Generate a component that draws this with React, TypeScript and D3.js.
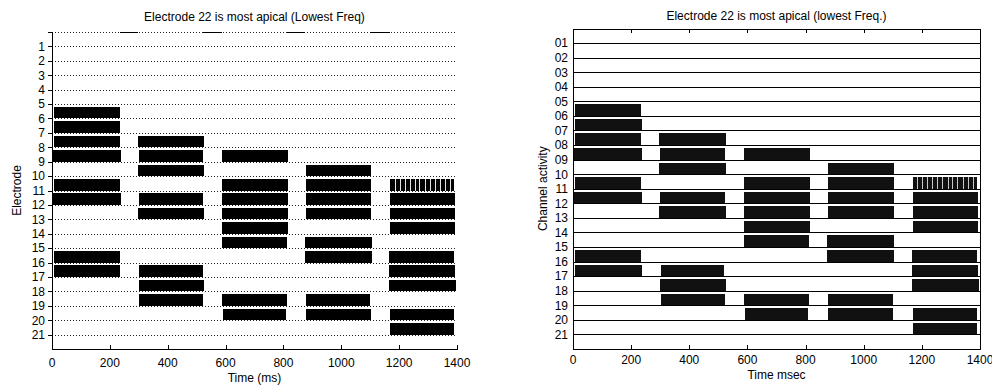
import React from 'react';
import * as d3 from 'd3';

// ---- data ----
const electrodeLabels = ['1','2','3','4','5','6','7','8','9','10','11','12','13','14','15','16','17','18','19','20','21'];
const channelLabels = ['01','02','03','04','05','06','07','08','09','10','11','12','13','14','15','16','17','18','19','20','21'];
const timeTicks = [0, 200, 400, 600, 800, 1000, 1200, 1400];

// [electrode, start ms, end ms]
const bars: [number, number, number][] = [
  [6, 8, 235],
  [7, 8, 236],
  [8, 8, 235], [8, 297, 527],
  [9, 3, 238], [9, 300, 523], [9, 587, 815],
  [10, 297, 527], [10, 878, 1104],
  [11, 8, 235], [11, 587, 815], [11, 878, 1104],
  [12, 3, 238], [12, 300, 523], [12, 587, 815], [12, 878, 1104], [12, 1168, 1392],
  [13, 297, 527], [13, 587, 815], [13, 878, 1104], [13, 1168, 1392],
  [14, 587, 816], [14, 1168, 1392],
  [15, 587, 811], [15, 875, 1105],
  [16, 8, 234], [16, 875, 1105], [16, 1166, 1390],
  [17, 8, 236], [17, 302, 521], [17, 1166, 1392],
  [18, 300, 527], [18, 1166, 1398],
  [19, 302, 523], [19, 587, 811], [19, 878, 1100],
  [20, 592, 810], [20, 878, 1102], [20, 1170, 1390],
  [21, 1170, 1390],
];
// pulsed burst on electrode 11
const pulsedBar: [number, number, number] = [11, 1168, 1390];
const pulseGaps = [1186, 1203, 1221, 1238, 1255, 1272, 1290, 1307, 1324, 1342, 1359, 1376];
// rest intervals marked on top line (left panel)
const restSegments: [number, number][] = [[235, 297], [522, 588], [812, 875], [1099, 1168]];

const FONT = 'Liberation Sans, Arial, Helvetica, sans-serif';

function LeftPanel() {
  const x = d3.scaleLinear().domain([0, 1400]).range([52, 457]);
  const y = d3.scaleLinear().domain([0, 22]).range([32, 349]);
  const rows = d3.range(0, 22);
  return (
    <g fontFamily={FONT}>
      <text x={254.5} y={21} textAnchor="middle" fontSize={12}>Electrode 22 is most apical (Lowest Freq)</text>
      {rows.map(r => (
        <line key={'g' + r} x1={x(0)} x2={x(1400)} y1={Math.round(y(r)) + 0.5} y2={Math.round(y(r)) + 0.5}
          stroke="#222" strokeWidth={1} strokeDasharray="1,2" />
      ))}
      {restSegments.map((s, i) => (
        <line key={'r' + i} x1={x(s[0])} x2={x(s[1])} y1={Math.round(y(0)) + 0.5} y2={Math.round(y(0)) + 0.5}
          stroke="#000" strokeWidth={1} />
      ))}
      {bars.map((b, i) => (
        <rect key={'b' + i} x={x(b[1])} width={x(b[2]) - x(b[1])} y={y(b[0] - 0.8)} height={y(b[0]) - y(b[0] - 0.8)} fill="#000" />
      ))}
      <rect x={x(pulsedBar[1])} width={x(pulsedBar[2]) - x(pulsedBar[1])} y={y(pulsedBar[0] - 0.8)}
        height={y(pulsedBar[0]) - y(pulsedBar[0] - 0.8)} fill="#000" />
      {pulseGaps.map((t, i) => (
        <line key={'p' + i} x1={x(t)} x2={x(t)} y1={y(pulsedBar[0] - 0.8)} y2={y(pulsedBar[0])} stroke="#fff" strokeWidth={0.9} />
      ))}
      {/* axes */}
      <line x1={x(0) + 0.5} x2={x(0) + 0.5} y1={y(0)} y2={y(22)} stroke="#000" />
      <line x1={x(0)} x2={x(1400) + 1} y1={y(22) + 0.5} y2={y(22) + 0.5} stroke="#000" />
      {rows.map(r => (
        <line key={'yt' + r} x1={x(0) - 4} x2={x(0)} y1={Math.round(y(r)) + 0.5} y2={Math.round(y(r)) + 0.5} stroke="#000" />
      ))}
      {electrodeLabels.map((l, i) => (
        <text key={'yl' + i} x={45} y={y(i + 1)} dy="0.36em" textAnchor="end" fontSize={12}>{l}</text>
      ))}
      {timeTicks.map(t => (
        <g key={'xt' + t}>
          <line x1={Math.round(x(t)) + 0.5} x2={Math.round(x(t)) + 0.5} y1={y(22)} y2={y(22) - 4} stroke="#000" />
          <text x={x(t)} y={367} textAnchor="middle" fontSize={12}>{t}</text>
        </g>
      ))}
      <text x={254.5} y={382} textAnchor="middle" fontSize={12}>Time (ms)</text>
      <text transform="translate(20.5,190.5) rotate(-90)" textAnchor="middle" fontSize={12}>Electrode</text>
    </g>
  );
}

function RightPanel() {
  const x = d3.scaleLinear().domain([0, 1400]).range([573, 980]);
  const y = d3.scaleLinear().domain([0, 22]).range([28.5, 349]);
  const rows = d3.range(1, 22);
  return (
    <g fontFamily={FONT}>
      <text x={776.5} y={19.5} textAnchor="middle" fontSize={12}>Electrode 22 is most apical (lowest Freq.)</text>
      {rows.map(r => (
        <line key={'g' + r} x1={x(0)} x2={x(1400)} y1={Math.round(y(r)) + 0.5} y2={Math.round(y(r)) + 0.5}
          stroke="#000" strokeWidth={1} />
      ))}
      {bars.map((b, i) => (
        <rect key={'b' + i} x={x(b[1])} width={x(b[2]) - x(b[1])} y={y(b[0] - 0.8)} height={y(b[0]) - y(b[0] - 0.8)} fill="#111" />
      ))}
      <rect x={x(pulsedBar[1])} width={x(pulsedBar[2]) - x(pulsedBar[1])} y={y(pulsedBar[0] - 0.8)}
        height={y(pulsedBar[0]) - y(pulsedBar[0] - 0.8)} fill="#111" />
      {pulseGaps.map((t, i) => (
        <line key={'p' + i} x1={x(t)} x2={x(t)} y1={y(pulsedBar[0] - 0.8)} y2={y(pulsedBar[0])} stroke="#ddd" strokeWidth={0.9} />
      ))}
      <rect x={x(0) + 0.5} y={Math.round(y(0)) + 0.5} width={x(1400) - x(0)} height={Math.round(y(22)) - Math.round(y(0))}
        fill="none" stroke="#000" />
      {timeTicks.map(t => (
        <g key={'xt' + t}>
          <line x1={Math.round(x(t)) + 0.5} x2={Math.round(x(t)) + 0.5} y1={y(22)} y2={y(22) - 4} stroke="#000" />
          <line x1={Math.round(x(t)) + 0.5} x2={Math.round(x(t)) + 0.5} y1={y(0)} y2={y(0) + 4} stroke="#000" />
          <text x={x(t)} y={364} textAnchor="middle" fontSize={12}>{t}</text>
        </g>
      ))}
      {channelLabels.map((l, i) => (
        <text key={'yl' + i} x={568} y={y(i + 1)} dy="0.36em" textAnchor="end" fontSize={12}>{l}</text>
      ))}
      <text x={776.5} y={379} textAnchor="middle" fontSize={12}>Time msec</text>
      <text transform="translate(547,188.7) rotate(-90)" textAnchor="middle" fontSize={12}>Channel activity</text>
    </g>
  );
}

export default function App() {
  return (
    <svg width={992} height={385} style={{ position: 'absolute', left: 0, top: 0, background: '#fff' }}
      shapeRendering="crispEdges">
      <rect x={0} y={0} width={992} height={385} fill="#fff" />
      <LeftPanel />
      <RightPanel />
    </svg>
  );
}
